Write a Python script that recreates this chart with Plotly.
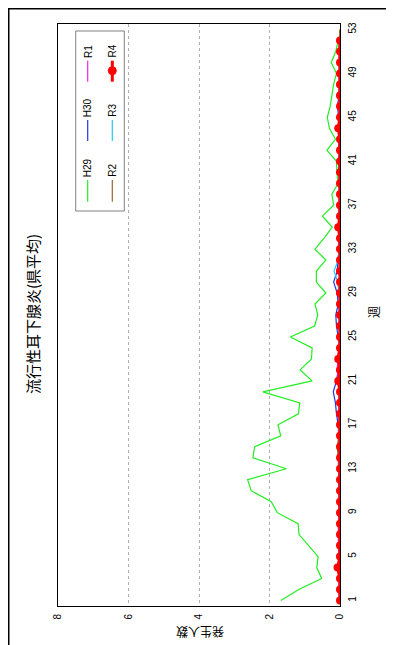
import plotly.graph_objects as go

# ---------------- data ----------------
week_ticks = [1, 5, 9, 13, 17, 21, 25, 29, 33, 37, 41, 45, 49, 53]
value_ticks = [0, 2, 4, 6, 8]

h29 = [1.68, 1.17, 0.52, 0.66, 0.62, 0.90, 1.16, 1.19, 1.78, 1.95,
       2.52, 2.62, 1.52, 2.47, 2.42, 1.68, 1.76, 1.18, 1.14, 2.19,
       0.79, 1.13, 0.81, 0.79, 1.41, 0.72, 0.63, 0.71, 0.40, 0.67,
       0.67, 0.40, 0.71, 0.45, 0.22, 0.50, 0.18, 0.23, 0.05, 0.09,
       0.10, 0.37, 0.13, 0.30, 0.36, 0.28, 0.24, 0.18, 0.10, 0.25,
       0.12, 0.05]
h30 = [0.02, 0.02, 0.03, 0.02, 0.03, 0.02, 0.03, 0.02, 0.03, 0.02,
       0.03, 0.02, 0.04, 0.05, 0.03, 0.04, 0.05, 0.10, 0.13, 0.19,
       0.10, 0.05, 0.04, 0.03, 0.05, 0.10, 0.12, 0.05, 0.08, 0.18,
       0.08, 0.05, 0.03, 0.04, 0.02, 0.03, 0.02, 0.03, 0.02, 0.03,
       0.02, 0.03, 0.04, 0.03, 0.04, 0.07, 0.03, 0.02, 0.03, 0.02,
       0.02, 0.02]
r1 = [0.02, 0.02, 0.03, 0.02, 0.03, 0.04, 0.05, 0.04, 0.03, 0.02,
      0.02, 0.02, 0.02, 0.02, 0.02, 0.02, 0.02, 0.02, 0.02, 0.03,
      0.04, 0.08, 0.06, 0.03, 0.02, 0.02, 0.02, 0.02, 0.02, 0.02,
      0.02, 0.02, 0.03, 0.02, 0.02, 0.02, 0.02, 0.02, 0.02, 0.02,
      0.02, 0.02, 0.02, 0.02, 0.02, 0.02, 0.02, 0.03, 0.02, 0.02,
      0.02, 0.02]
r2 = [0.01, 0.01, 0.01, 0.01, 0.01, 0.01, 0.01, 0.01, 0.01, 0.01,
      0.01, 0.01, 0.02, 0.05, 0.08, 0.03, 0.02, 0.01, 0.01, 0.01,
      0.01, 0.01, 0.01, 0.02, 0.03, 0.01, 0.01, 0.01, 0.01, 0.01,
      0.01, 0.01, 0.01, 0.01, 0.01, 0.01, 0.01, 0.01, 0.01, 0.01,
      0.01, 0.01, 0.01, 0.01, 0.01, 0.01, 0.01, 0.01, 0.01, 0.01,
      0.01, 0.01, 0.01]
r3 = [0.01, 0.01, 0.01, 0.01, 0.01, 0.01, 0.01, 0.01, 0.01, 0.01,
      0.01, 0.01, 0.01, 0.01, 0.01, 0.01, 0.01, 0.01, 0.01, 0.01,
      0.01, 0.01, 0.01, 0.01, 0.01, 0.01, 0.02, 0.03, 0.04, 0.06,
      0.17, 0.05, 0.02, 0.01, 0.01, 0.01, 0.01, 0.01, 0.02, 0.02,
      0.01, 0.02, 0.01, 0.01, 0.01, 0.01, 0.01, 0.01, 0.01, 0.01,
      0.01, 0.01]
r4 = [0.0, 0.0, 0.0, 0.07, 0.0, 0.0, 0.0, 0.0, 0.0, 0.0,
      0.0, 0.0, 0.0, 0.0, 0.0, 0.0, 0.0, 0.0, 0.0, 0.0,
      0.05, 0.0, 0.05, 0.0, 0.0, 0.0, 0.0, 0.0, 0.0, 0.0,
      0.0, 0.0, 0.0, 0.0, 0.05, 0.0, 0.0, 0.0, 0.0, 0.0,
      0.0, 0.0, 0.0, 0.05, 0.0, 0.0, 0.0, 0.0, 0.0, 0.0,
      0.0, 0.0]

series = [
    ("H29", h29, "#22ee22", 1.2),
    ("H30", h30, "#2233dd", 1.2),
    ("R1", r1, "#ee22ee", 1.2),
    ("R2", r2, "#a0642a", 1.2),
    ("R3", r3, "#22ccff", 1.2),
]

# ---------------- geometry ----------------
OFF = 8                      # page body margin
W, H = 386, 637              # figure size
# plot area in screen pixels
SL, SR, ST, SB = 58, 340, 24, 606
L, R, T, B = SL - OFF, SR - OFF, ST - OFF, SB - OFF
PW, PH = R - L, B - T


def px(xs):
    """screen x -> paper x"""
    return (xs - OFF - L) / PW


def py(ys):
    """screen y -> paper y"""
    return (B - (ys - OFF)) / PH


fig = go.Figure()
for name, vals, col, wd in series:
    fig.add_trace(go.Scatter(
        x=vals, y=list(range(1, len(vals) + 1)), mode="lines", name=name,
        line=dict(color=col, width=wd), showlegend=False))
fig.add_trace(go.Scatter(
    x=r4, y=list(range(1, len(r4) + 1)), mode="lines+markers", name="R4",
    line=dict(color="#ff0000", width=3),
    marker=dict(color="#ff0000", size=8, symbol="circle"),
    showlegend=False))

tickfont = dict(family="Liberation Sans, Arial, sans-serif", size=10, color="#000")
cjk = "Noto Sans CJK JP, sans-serif"

fig.update_xaxes(
    range=[8, 0], tickvals=value_ticks, ticktext=[str(v) for v in value_ticks],
    tickangle=-90, tickfont=tickfont, showgrid=True, gridcolor="#b0b0b0",
    griddash="dot", gridwidth=1, zeroline=False, showline=True, mirror=True,
    linecolor="#000", linewidth=1, ticks="outside", ticklen=3, tickcolor="rgba(0,0,0,0)")
fig.update_yaxes(
    range=[0.5, 53.5], tickvals=week_ticks, ticktext=[str(v) for v in week_ticks],
    side="right", tickangle=-90, tickfont=tickfont, showgrid=False,
    zeroline=False, showline=True, mirror=True, linecolor="#000", linewidth=1,
    ticks="outside", ticklen=3, tickcolor="rgba(0,0,0,0)")

shapes = []
annotations = []
# outer border (at the figure edge)
shapes.append(dict(type="rect", xref="paper", yref="paper",
                   x0=px(OFF + 0.5), x1=px(OFF + 384.5), y0=py(720), y1=py(OFF + 0.5),
                   line=dict(color="#000", width=2), fillcolor="rgba(0,0,0,0)", layer="above"))
# legend box
shapes.append(dict(type="rect", xref="paper", yref="paper",
                   x0=px(75.7), x1=px(124.3), y0=py(211), y1=py(31),
                   line=dict(color="#808080", width=1), fillcolor="#fff", layer="above"))

legend_items = [
    ("H29", "#22ee22", 87.7, 180, 201.7, 1.2),
    ("H30", "#2233dd", 87.7, 120, 141, 1.2),
    ("R1", "#ee22ee", 87.7, 60.7, 81.7, 1.2),
    ("R2", "#a0642a", 112.3, 180, 201.7, 1.2),
    ("R3", "#22ccff", 112.3, 120, 141, 1.2),
    ("R4", "#ff0000", 112.3, 60.7, 81.7, 3),
]
for name, col, lx, y0, y1, wd in legend_items:
    shapes.append(dict(type="line", xref="paper", yref="paper",
                       x0=px(lx), x1=px(lx), y0=py(y0), y1=py(y1),
                       line=dict(color=col, width=wd), layer="above"))
    annotations.append(dict(text=name, xref="paper", yref="paper",
                            x=px(lx), y=py(y0 - 1), xanchor="center", yanchor="bottom",
                            textangle=-90, showarrow=False,
                            font=dict(family="Liberation Sans, Arial, sans-serif", size=10, color="#000")))
# R4 legend marker
shapes.append(dict(type="circle", xref="paper", yref="paper",
                   xsizemode="pixel", ysizemode="pixel",
                   xanchor=px(112.3), yanchor=py(70.7),
                   x0=-4, x1=4, y0=-4, y1=4,
                   line=dict(color="#ff0000", width=1), fillcolor="#ff0000", layer="above"))

# title and axis titles (rotated like the reference)
annotations.append(dict(text="流行性耳下腺炎(県平均)", xref="paper", yref="paper",
                        x=px(32), y=py(314), xanchor="center", yanchor="middle",
                        textangle=-90, showarrow=False,
                        font=dict(family=cjk, size=15, color="#000")))
annotations.append(dict(text="週", xref="paper", yref="paper",
                        x=px(373), y=py(312), xanchor="center", yanchor="middle",
                        textangle=-90, showarrow=False,
                        font=dict(family=cjk, size=12, color="#000")))
annotations.append(dict(text="発生人数", xref="paper", yref="paper",
                        x=px(200), y=py(633), xanchor="center", yanchor="middle",
                        textangle=180, showarrow=False,
                        font=dict(family=cjk, size=12, color="#000")))

fig.update_layout(
    width=W, height=H, margin=dict(l=L, r=W - R, t=T, b=H - B, pad=0),
    paper_bgcolor="#fff", plot_bgcolor="#fff", showlegend=False,
    shapes=shapes, annotations=annotations)

fig.write_html("out.html")
